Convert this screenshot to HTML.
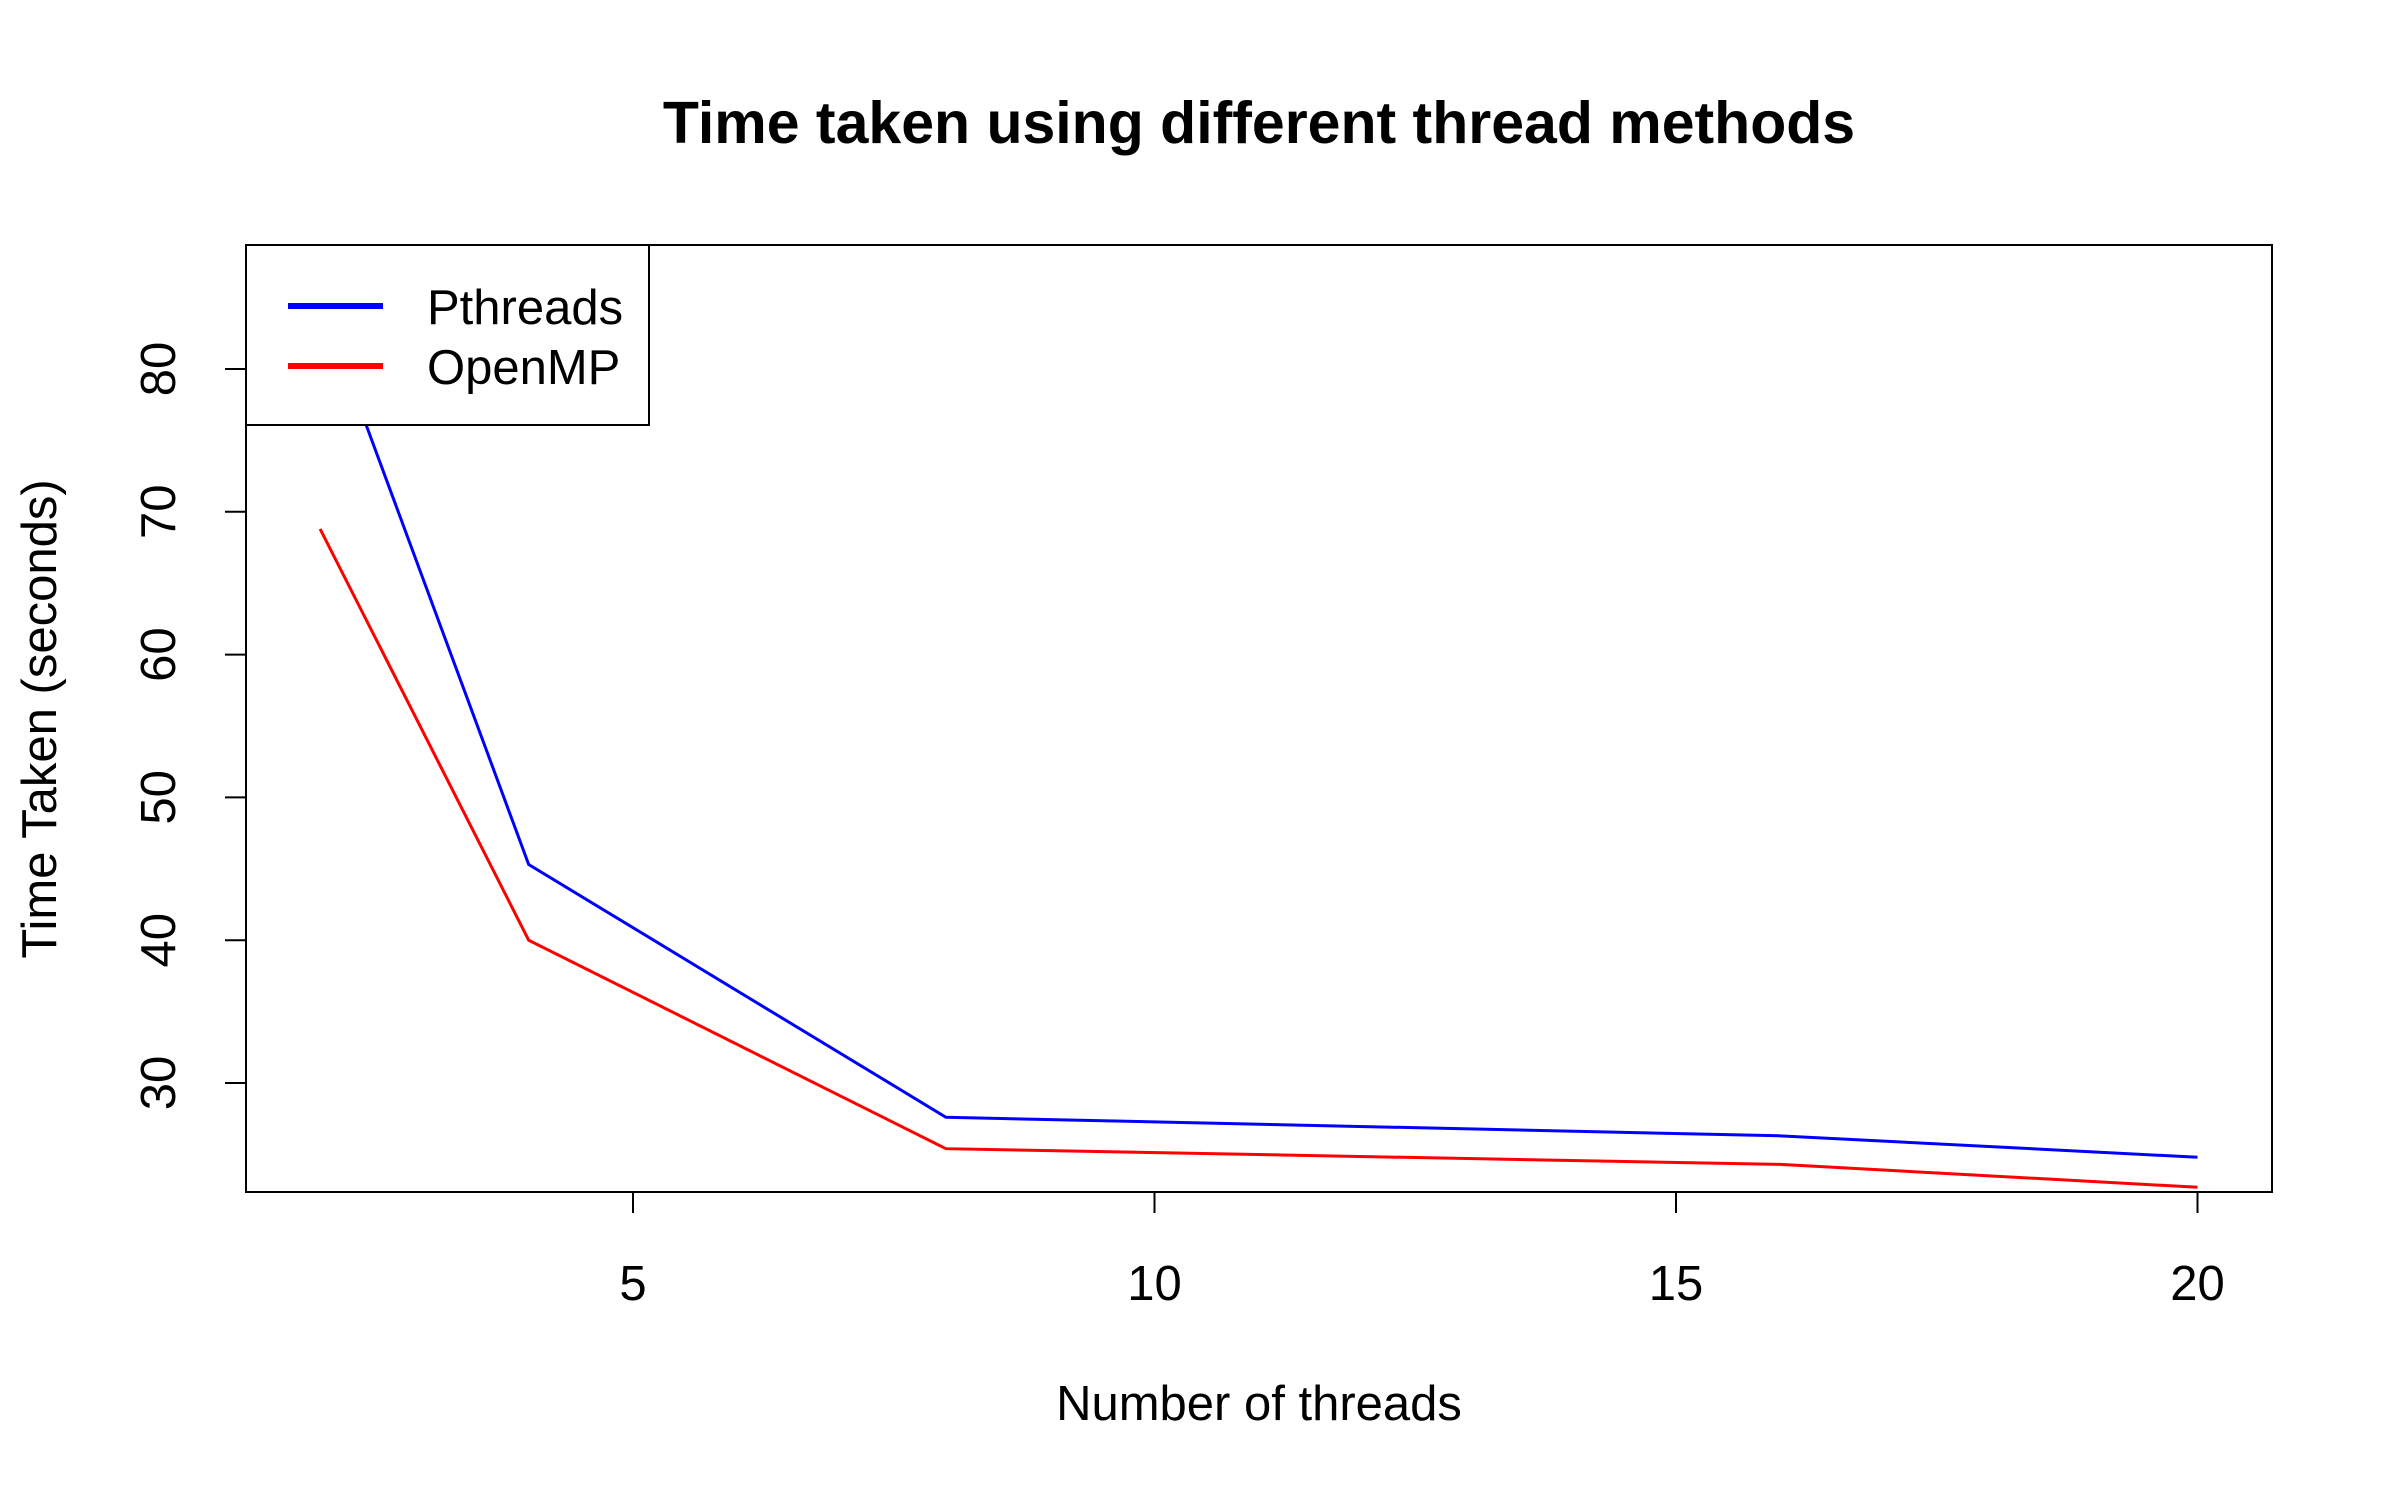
<!DOCTYPE html>
<html><head><meta charset="utf-8"><style>
html,body{margin:0;padding:0;background:#fff;}
svg{display:block;font-family:"Liberation Sans",Arial,sans-serif;}
</style></head><body>
<svg id="chart" width="2400" height="1500" viewBox="0 0 2400 1500">
<rect width="2400" height="1500" fill="#fff"/>
<text x="1259" y="143" text-anchor="middle" font-size="59" font-weight="bold">Time taken using different thread methods</text>
<g id="series"></g>
<rect x="246" y="245" width="2026" height="947" fill="none" stroke="#000" stroke-width="2"/>
<g id="axes"></g>
<text x="1259" y="1420" text-anchor="middle" font-size="49">Number of threads</text>
<text transform="translate(56,719) rotate(-90)" text-anchor="middle" font-size="49">Time Taken (seconds)</text>
<g>
<rect x="246" y="245" width="403" height="180" fill="#fff" stroke="#000" stroke-width="2"/>
<line x1="288" y1="306" x2="383" y2="306" stroke="#0000ff" stroke-width="6"/>
<text x="427" y="324" font-size="49">Pthreads</text>
<line x1="288" y1="366" x2="383" y2="366" stroke="#ff0000" stroke-width="6"/>
<text x="427" y="384" font-size="49">OpenMP</text>
</g>
</svg>
<script>
const threads = [2, 4, 8, 16, 20];
const pthreads = [84.8, 45.3, 27.6, 26.3, 24.8];
const openmp = [68.8, 40.0, 25.4, 24.3, 22.7];
const xTicks = [5, 10, 15, 20];
const yTicks = [30, 40, 50, 60, 70, 80];
const NS = "http://www.w3.org/2000/svg";
function xs(v){ return 633 + (v - 5) * 104.3; }
function ys(v){ return 1083 - (v - 30) * 14.28; }
const axes = document.getElementById('axes');
const series = document.getElementById('series');
function mk(tag, attrs, parent){ const e = document.createElementNS(NS, tag); for (const k in attrs) e.setAttribute(k, attrs[k]); parent.appendChild(e); return e; }
const clip = mk('clipPath', {id:'pc'}, series);
mk('rect', {x:246, y:245, width:2026, height:947}, clip);
xTicks.forEach(t => {
  const l = mk('line', {x1:xs(t), x2:xs(t), y1:1192, y2:1213, stroke:'#000', 'stroke-width':2}, axes);
  
  
  const tx = mk('text', {x:xs(t), y:1300, 'text-anchor':'middle', 'font-size':49}, axes);
  tx.textContent = t;
  
  
});
yTicks.forEach(t => {
  const l = mk('line', {x1:225, x2:246, y1:ys(t), y2:ys(t), stroke:'#000', 'stroke-width':2}, axes);
  
  
  const tx = mk('text', {transform:'translate(175,' + ys(t) + ') rotate(-90)', 'text-anchor':'middle', 'font-size':49}, axes);
  tx.textContent = t;
  
  
});
function drawLine(vals, color, name){
  const pts = threads.map((x, i) => xs(x) + ',' + ys(vals[i])).join(' ');
  const p = mk('polyline', {points:pts, fill:'none', stroke:color, 'stroke-width':3, 'clip-path':'url(#pc)'}, series);
  
  
}
drawLine(pthreads, '#0000ff', 'pthreads-line');
drawLine(openmp, '#ff0000', 'openmp-line');
</script>
</body></html>
